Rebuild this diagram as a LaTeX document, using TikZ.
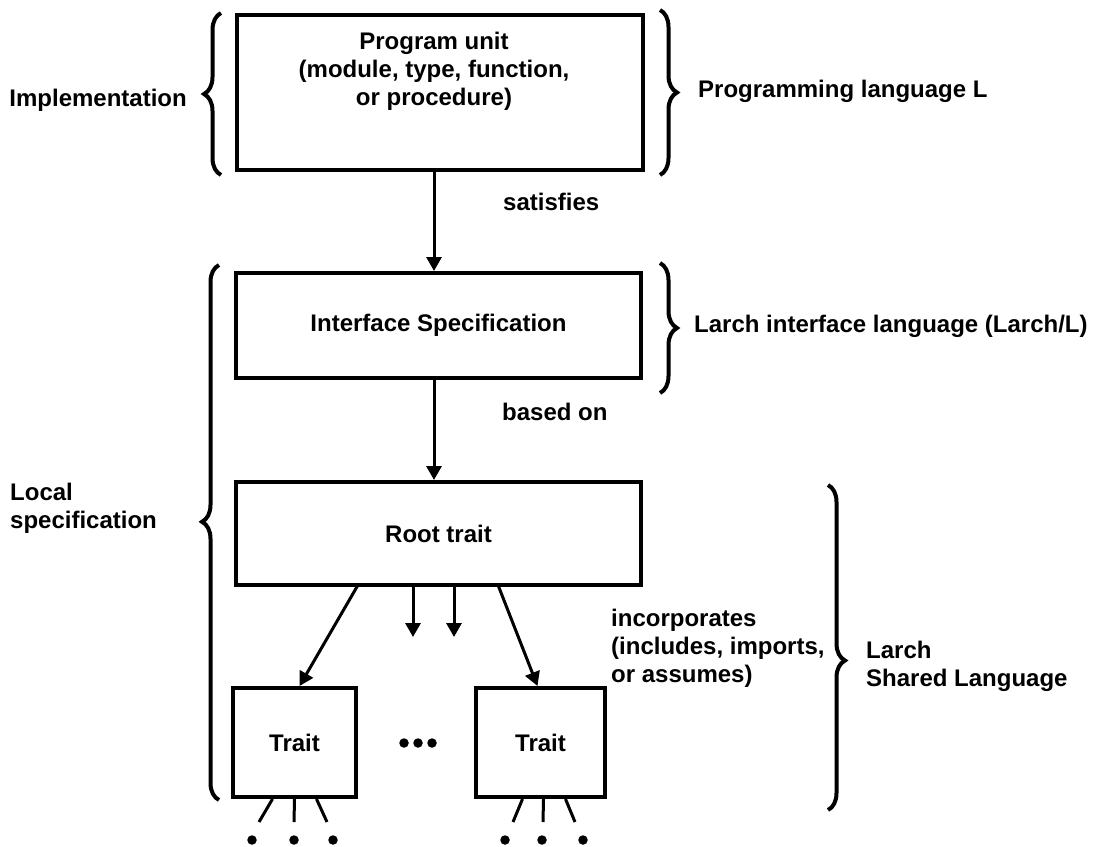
\documentclass[tikz,border=0pt]{standalone}
\usepackage{fontspec}
\setmainfont{Liberation Sans}
\usetikzlibrary{arrows.meta,decorations.pathreplacing}
\begin{document}
\begin{tikzpicture}[x=1pt,y=-1pt,
  every node/.style={font=\fontsize{24}{28}\selectfont\bfseries, inner sep=0pt},
  box/.style={draw, line width=4pt, rectangle},
  conn/.style={line width=3pt, -{Triangle[length=14pt,width=15pt]}},
  fan/.style={line width=3pt},
  brc/.style={line width=4pt, decorate, decoration={brace, amplitude=17pt, #1}},
  brc/.default={aspect=0.5},
  dot/.style={circle, fill, minimum size=9.5pt, inner sep=0pt},
]
\useasboundingbox (0,0) rectangle (1116,846);

% boxes
\node[box, minimum width=406pt, minimum height=155pt] (pu) at (440,92.5) {};
\node (putext) at (434,71) [align=center] {Program unit\\(module, type, function,\\or procedure)};
\node[box, minimum width=405pt, minimum height=105pt] (is) at (438.5,325.5) {Interface Specification};
\node[box, minimum width=405pt, minimum height=103pt] (rt) at (438.5,533.5) {Root trait};
\node[box, minimum width=123pt, minimum height=109pt] (t1) at (294.5,742.5) {Trait};
\node[box, minimum width=129pt, minimum height=109pt] (t2) at (540.5,742.5) {Trait};

% ellipsis between the traits
\node[dot] (e1) at (404,743) {};
\node[dot] (e2) at (418,743) {};
\node[dot] (e3) at (432,743) {};

% main chain
\coordinate (axis) at (434,0);
\draw[conn] (pu.south -| axis) -- (is.north -| axis);
\draw[conn] (is.south -| axis) -- (rt.north -| axis);

% incorporation arrows
\coordinate (r1) at (358,585);
\coordinate (r2) at (498,585);
\coordinate (s1a) at (413,585);
\coordinate (s1b) at (413,637);
\coordinate (s2a) at (454,585);
\coordinate (s2b) at (454,637);
\draw[conn] (r1) -- ([xshift=5pt]t1.north);
\draw[conn] (r2) -- ([xshift=-3pt]t2.north);
\draw[conn] (s1a) -- (s1b);
\draw[conn] (s2a) -- (s2b);

% fans below the traits
\coordinate (f1) at (259,822);
\coordinate (f2) at (294,822);
\coordinate (f3) at (327,822);
\coordinate (f4) at (513,822);
\coordinate (f5) at (543,822);
\coordinate (f6) at (575,822);
\draw[fan] ([xshift=-22pt]t1.south) -- (f1);
\draw[fan] (t1.south) -- (f2);
\draw[fan] ([xshift=22pt]t1.south) -- (f3);
\draw[fan] ([xshift=-18pt]t2.south) -- (f4);
\draw[fan] ([xshift=3pt]t2.south) -- (f5);
\draw[fan] ([xshift=25pt]t2.south) -- (f6);
\node[dot] (d1) at (252,840) {};
\node[dot] (d2) at (294,840) {};
\node[dot] (d3) at (333,840) {};
\node[dot] (d4) at (505,840) {};
\node[dot] (d5) at (542,840) {};
\node[dot] (d6) at (583,840) {};

% braces
\draw[brc] (221,175) -- (221,13);
\draw[brc] (660,10) -- (660,175);
\draw[brc] (660,263) -- (660,393);
\draw[brc={aspect=0.52}] (219,800) -- (219,265);
\draw[brc={aspect=0.54}] (828,485) -- (828,810);

% labels
\node[anchor=east] (impl) at (187,100) {Implementation};
\node[anchor=west] (pl) at (698,91) {Programming language L};
\node[anchor=west] (sat) at (503,202) {satisfies};
\node[anchor=west] (lil) at (694,326) {Larch interface language (Larch/L)};
\node[anchor=west] (bon) at (502,412) {based on};
\node[anchor=west, align=left] (loc) at (10,508) {Local\\specification};
\node[anchor=west, align=left] (inc) at (611,648) {incorporates\\(includes, imports,\\or assumes)};
\node[anchor=west, align=left] (lsl) at (866,666) {Larch\\Shared Language};
\end{tikzpicture}
\end{document}
